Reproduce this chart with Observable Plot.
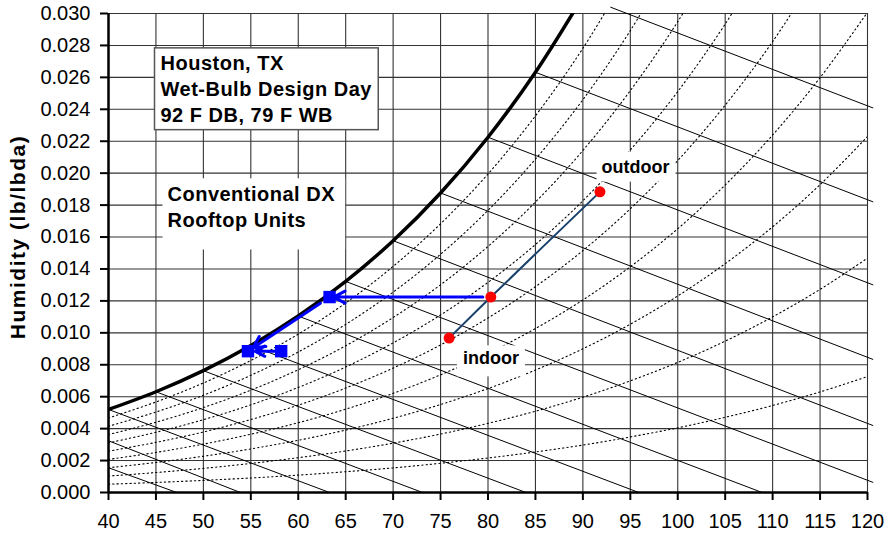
<!DOCTYPE html>
<html><head><meta charset="utf-8">
<script src="https://cdn.jsdelivr.net/npm/d3@7"></script>
<script src="https://cdn.jsdelivr.net/npm/@observablehq/plot@0.6"></script>
<style>
body{margin:0;background:#fff;}
</style>
</head><body>
<div id="chart"></div>
<script>
// ---- data ----
const xTicks = [40,45,50,55,60,65,70,75,80,85,90,95,100,105,110,115,120];
const yTicks = [0,0.002,0.004,0.006,0.008,0.010,0.012,0.014,0.016,0.018,0.020,0.022,0.024,0.026,0.028,0.030];
const temps = [40,45,50,55,60,65,70,75,80,85,90,95,100,105,110,115,120];
const satW  = [0.00520,0.00631,0.00763,0.00920,0.01105,0.01322,0.01577,0.01876,0.02225,0.02632,0.03106];
const rhLevels = [10,20,30,40,50,60,70,80,90];
const rh10 = [0.00052,0.00063,0.00076,0.00091,0.00109,0.00130,0.00154,0.00183,0.00216,0.00254,0.00297,0.00348,0.00405,0.00471,0.00545,0.00630,0.00726];
const rh20 = [0.00103,0.00125,0.00151,0.00182,0.00218,0.00260,0.00309,0.00366,0.00433,0.00509,0.00597,0.00699,0.00815,0.00948,0.01100,0.01272,0.01468];
const rh30 = [0.00155,0.00188,0.00227,0.00273,0.00327,0.00391,0.00465,0.00551,0.00651,0.00767,0.00900,0.01054,0.01231,0.01433,0.01664,0.01928,0.02229];
const rh40 = [0.00207,0.00251,0.00303,0.00365,0.00437,0.00522,0.00621,0.00737,0.00871,0.01027,0.01206,0.01414,0.01652,0.01926,0.02239,0.02598,0.03008];
const rh50 = [0.00259,0.00314,0.00379,0.00457,0.00547,0.00654,0.00779,0.00924,0.01093,0.01289,0.01515,0.01777,0.02079,0.02426,0.02824,0.03282];
const rh60 = [0.00311,0.00377,0.00456,0.00549,0.00658,0.00786,0.00937,0.01112,0.01316,0.01553,0.01827,0.02145,0.02511,0.02934,0.03420];
const rh70 = [0.00363,0.00440,0.00532,0.00641,0.00769,0.00919,0.01096,0.01301,0.01541,0.01819,0.02142,0.02517,0.02949,0.03450];
const rh80 = [0.00415,0.00504,0.00609,0.00734,0.00880,0.01053,0.01255,0.01492,0.01767,0.02088,0.02460,0.02893,0.03394];
const rh90 = [0.00467,0.00567,0.00686,0.00827,0.00992,0.01187,0.01416,0.01683,0.01995,0.02359,0.02782,0.03273];
// wet-bulb lines (start and end of each straight line)
const wbTemps  = [30,35,40,45,50,55,60,65,70,75,80,85,90];
const wbStartT = [40,40,40,45,50,55,60,65,70,75,80,85,92.9];
const wbStartW = [0.00155,0.00324,0.00520,0.00631,0.00763,0.00920,0.01105,0.01322,0.01577,0.01876,0.02225,0.02632,0.03040];
const wbEndT   = [47.2,53.9,63.3,73.1,84.0,95.9,108.9,120.6,120.6,120.6,120.6,120.6,120.6];
const wbEndW   = [0,0,0,0,0,0,0,0.00063,0.00419,0.00833,0.01300,0.01820,0.02408];
// process states
const stateNames = ["outdoor","mixed","indoor"];
const stateT = [91.8, 80.3, 75.9];
const stateW = [0.01883, 0.01224, 0.00967];
const coilT = [63.3, 54.7, 58.2];
const coilW = [0.01224, 0.00885, 0.00885];
const box1Lines = ["Houston, TX","Wet-Bulb Design Day","92 F DB, 79 F WB"];
const box2Lines = ["Conventional DX","Rooftop Units"];
const yLabel = "Humidity (lb/lbda)";

// ---- tables ----
const rhSeries = [rh10,rh20,rh30,rh40,rh50,rh60,rh70,rh80,rh90];
const rhRows = rhLevels.flatMap((rh,k) => rhSeries[k].map((w,i) => ({rh, t: temps[i], w})));
const satRows = satW.map((w,i) => ({t: temps[i], w}));
const wbRows = wbTemps.map((wb,i) => ({wb, x1: wbStartT[i], y1: wbStartW[i], x2: wbEndT[i], y2: wbEndW[i]}));
const states = stateNames.map((name,i) => ({name, t: stateT[i], w: stateW[i]}));
const coils = coilT.map((t,i) => ({t, w: coilW[i]}));
const font = "Liberation Sans, Arial, Helvetica, sans-serif";
const blue = "#0000ff";
const arrowOpts = {x1: d => d.a.t, y1: d => d.a.w, x2: d => d.b.t, y2: d => d.b.w, stroke: blue, strokeWidth: 3, headLength: 6.5, headAngle: 55};

const chart = Plot.plot({
  width: 885, height: 536,
  marginLeft: 108, marginRight: 18, marginTop: 13, marginBottom: 44,
  style: {fontFamily: font, fontSize: "20px", background: "#fff", color: "#000", overflow: "visible"},
  x: {domain: [40,120], ticks: xTicks, tickSize: 8, tickPadding: 13, label: null},
  y: {domain: [0,0.030], ticks: yTicks, tickSize: 8, tickPadding: 10, tickFormat: d3.format(".3f"), label: null},
  marks: [
    Plot.ruleX(xTicks, {stroke: "#333", strokeWidth: 1.1}),
    Plot.ruleY(yTicks, {stroke: "#333", strokeWidth: 1.1}),
    Plot.line(rhRows, {x: "t", y: "w", z: "rh", curve: "catmull-rom", stroke: "#000", strokeWidth: 1.1, strokeDasharray: "1.3,3", clip: true}),
    Plot.link(wbRows, {x1: "x1", y1: "y1", x2: "x2", y2: "y2", stroke: "#000", strokeWidth: 1}),
    Plot.line(satRows, {x: "t", y: "w", curve: "catmull-rom", stroke: "#000", strokeWidth: 3.5, clip: true}),
    Plot.ruleX([40], {stroke: "#000", strokeWidth: 2.5}),
    Plot.ruleY([0], {stroke: "#000", strokeWidth: 2.5}),
    Plot.text([box1Lines.join("\n")], {frameAnchor: "top-left", textAnchor: "start", lineAnchor: "top", dx: 52, dy: 38.5, lineHeight: 1.3, fontSize: 20, fontWeight: "bold", fill: "#000"}),
    Plot.text([box2Lines.join("\n")], {frameAnchor: "top-left", textAnchor: "start", lineAnchor: "top", dx: 59, dy: 168.5, lineHeight: 1.33, fontSize: 20, fontWeight: "bold", fill: "#000"}),
    Plot.text([states[0]], {x: "t", y: "w", text: "name", dx: 35.6, dy: -25, fontSize: 18, fontWeight: "bold", fill: "#000"}),
    Plot.text([states[2]], {x: "t", y: "w", text: "name", dx: 41.8, dy: 20.5, fontSize: 18, fontWeight: "bold", fill: "#000"}),
    Plot.line(states, {x: "t", y: "w", curve: "catmull-rom", stroke: "#17406d", strokeWidth: 2}),
    Plot.arrow([{a: states[1], b: coils[0]}], {...arrowOpts, insetStart: 8, insetEnd: 4}),
    Plot.arrow([{a: coils[0], b: coils[1]}], {...arrowOpts, insetStart: 11, insetEnd: 6}),
    Plot.arrow([{a: coils[2], b: coils[1]}], {...arrowOpts, insetStart: 0, insetEnd: 7}),
    Plot.dot(states, {x: "t", y: "w", r: 5.5, fill: "#ff0000", stroke: "none"}),
    Plot.dot(coils, {x: "t", y: "w", r: 7, symbol: "square", fill: blue, stroke: "none"}),
    Plot.text([yLabel], {frameAnchor: "left", textAnchor: "middle", rotate: -90, dx: -90.5, dy: -16, fontSize: 21, fontWeight: "bold", fill: "#000"})
  ]
});
document.getElementById("chart").append(chart);

// white boxes behind the annotation texts
const svgNS = "http://www.w3.org/2000/svg";
const allTexts = Array.from(chart.querySelectorAll("text"));
const findText = s => allTexts.find(t => t.textContent === s);
function addBox(el, pad, stroke) {
  if (!el) return;
  const b = el.getBBox();
  const r = document.createElementNS(svgNS, "rect");
  r.setAttribute("x", b.x - pad[3]);
  r.setAttribute("y", b.y - pad[0]);
  r.setAttribute("width", b.width + pad[1] + pad[3]);
  r.setAttribute("height", b.height + pad[0] + pad[2]);
  r.setAttribute("fill", "#fff");
  if (el.getAttribute("transform")) r.setAttribute("transform", el.getAttribute("transform"));
  if (stroke) { r.setAttribute("stroke", stroke); r.setAttribute("stroke-width", 1.5); }
  el.parentNode.insertBefore(r, el);
}
const t1 = findText(box1Lines.join("")), t2 = findText(box2Lines.join(""));
const yl = findText(yLabel);
[t1, t2].forEach(t => t && (t.style.letterSpacing = "0.5px"));
if (yl) yl.style.letterSpacing = "1.5px";
addBox(t1, [4.6, 6, 3.2, 6], "#555");
addBox(t2, [4.6, 10, 18, 5], null);
addBox(findText("outdoor"), [5, 6, 5, 5], null);
addBox(findText("indoor"), [3, 6, 8, 6], null);
chart.querySelectorAll('g[aria-label^="x-axis"] line, g[aria-label^="x-axis"] path, g[aria-label^="y-axis"] line, g[aria-label^="y-axis"] path').forEach(el => el.setAttribute("stroke-width", 2));
</script>
</body></html>
